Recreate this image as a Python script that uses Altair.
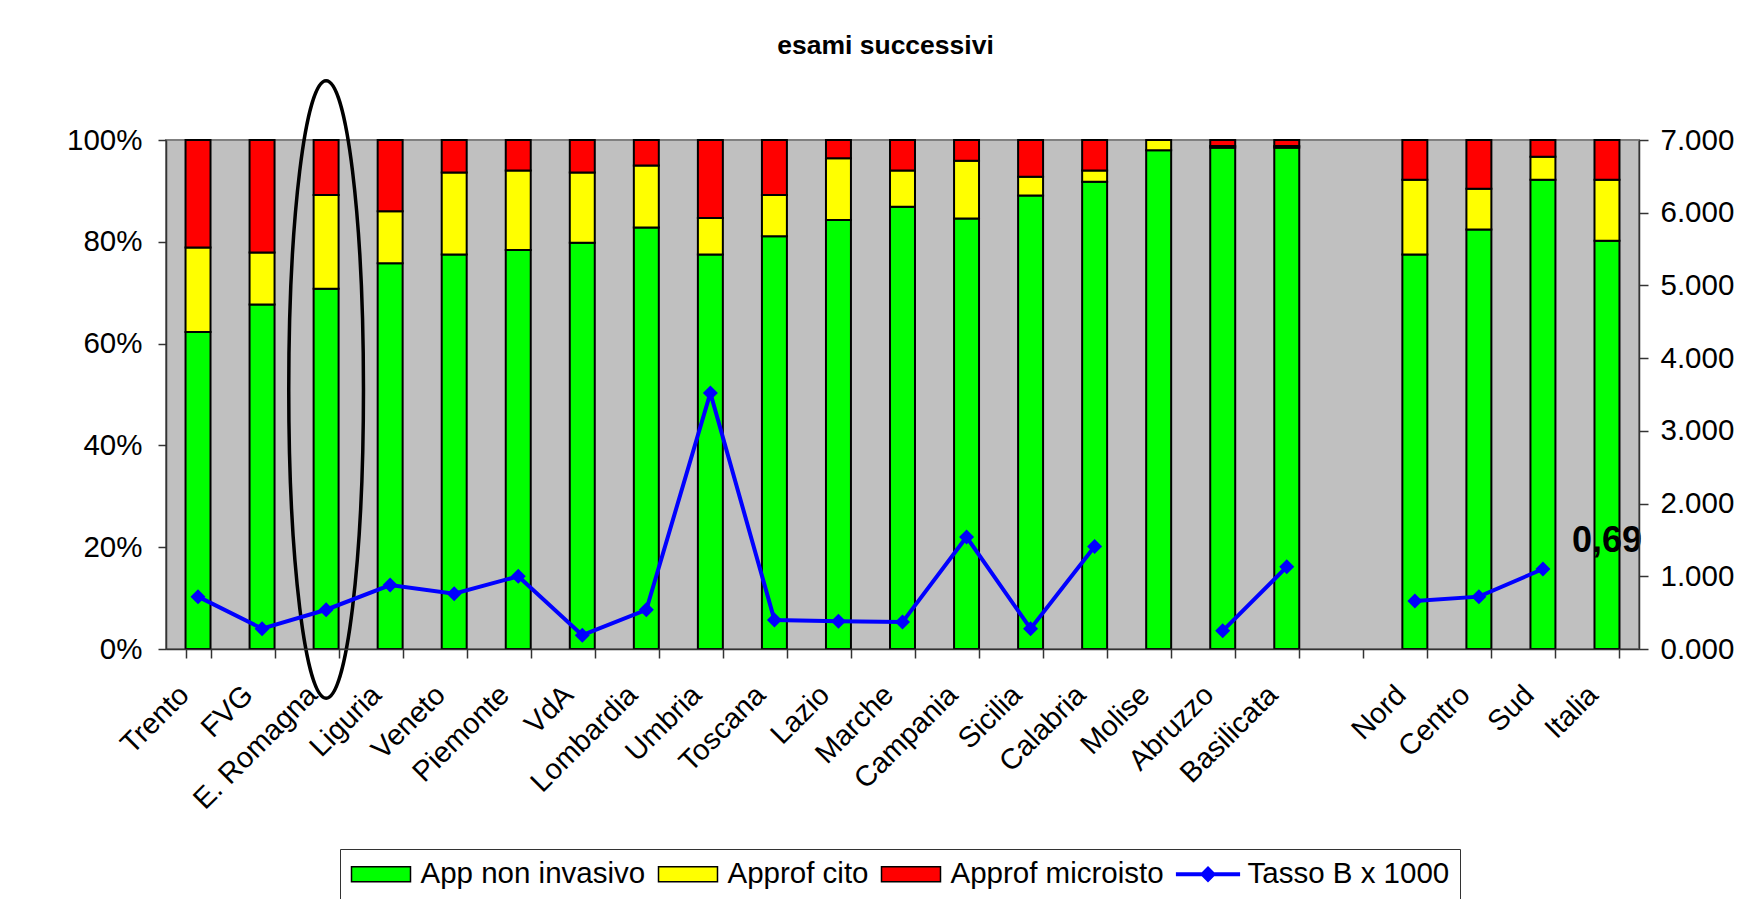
import altair as alt
import pandas as pd

# ---------------- data ----------------
categories = ["Trento", "FVG", "E. Romagna", "Liguria", "Veneto", "Piemonte", "VdA",
              "Lombardia", "Umbria", "Toscana", "Lazio", "Marche", "Campania", "Sicilia",
              "Calabria", "Molise", "Abruzzo", "Basilicata", " ", "Nord", "Centro", "Sud", "Italia"]
app_non_invasivo = [62.3, 67.7, 70.8, 75.8, 77.5, 78.4, 79.8, 82.8, 77.5, 81.1, 84.3, 86.9,
                    84.6, 89.1, 91.8, 98.0, 98.5, 98.5, None, 77.5, 82.4, 92.2, 80.2]
approf_cito = [16.6, 10.2, 18.4, 10.2, 16.1, 15.6, 13.8, 12.2, 7.2, 8.1, 12.1, 7.1,
               11.3, 3.7, 2.2, 2.0, 0.3, 0.3, None, 14.7, 8.0, 4.5, 12.0]
approf_microisto = [21.1, 22.1, 10.8, 14.0, 6.4, 6.0, 6.4, 5.0, 15.3, 10.8, 3.6, 6.0,
                    4.1, 7.2, 6.0, 0.0, 1.2, 1.2, None, 7.8, 9.6, 3.3, 7.8]
tasso_b_x_1000 = [0.72, 0.28, 0.54, 0.88, 0.76, 1.00, 0.19, 0.54, 3.52, 0.40, 0.38, 0.37,
                  1.54, 0.28, 1.41, None, 0.25, 1.13, None, 0.66, 0.72, 1.10, None]
italia_tasso = [0.69]
italia_label = ["0,69"]
series_names = ["App non invasivo", "Approf cito", "Approf microisto", "Tasso B x 1000"]
percent_ticks = [0, 0.2, 0.4, 0.6, 0.8, 1.0]
rate_ticks = [0, 1, 2, 3, 4, 5, 6, 7]
highlight_category = ["E. Romagna"]
highlight_pos = [0.51]
chart_title = "esami successivi"

# ---------------- styling ----------------
FONT = "Liberation Sans"
GREEN, YELLOW, RED, BLUE = "#00FF00", "#FFFF00", "#FF0000", "#0000FF"
PLOT_BG = "#C0C0C0"
AXIS_COLOR = "#333333"
RECT_SYMBOL = "M-2.07,-0.53H2.07V0.53H-2.07Z"
LINE_SYMBOL = "M-2.2,-0.088H2.2V0.088H-2.2Z M0,-0.5L0.5,0L0,0.5L-0.5,0Z"
k = 0.5523
rx = 0.121
ELLIPSE = (f"M0,-1C{k*rx:.4f},-1 {rx},-{k} {rx},0C{rx},{k} {k*rx:.4f},1 0,1"
           f"C-{k*rx:.4f},1 -{rx},{k} -{rx},0C-{rx},-{k} -{k*rx:.4f},-1 0,-1Z")

# ---------------- tables ----------------
bar_rows = []
for i, cat in enumerate(categories):
    for s, arr in enumerate([app_non_invasivo, approf_cito, approf_microisto]):
        if arr[i] is None:
            continue
        bar_rows.append({"cat": cat, "series": series_names[s], "pct": arr[i], "ord": s})
bars_df = pd.DataFrame(bar_rows)

line_rows = []
seg = 0
for i, (cat, v) in enumerate(zip(categories, tasso_b_x_1000)):
    if v is None:
        seg += 1
        continue
    line_rows.append({"cat": cat, "rate": v, "seg": seg, "idx": i})
line_df = pd.DataFrame(line_rows)

label_df = pd.DataFrame({"cat": ["Italia"], "rate": italia_tasso, "label": italia_label})
ellipse_df = pd.DataFrame({"cat": highlight_category, "pos": highlight_pos})
legend_df = pd.DataFrame({"series": series_names})
panel_df = pd.DataFrame({"panel": ["plot"]})

# ---------------- encodings ----------------
x_enc = alt.X(
    "cat:N", title=None,
    scale=alt.Scale(domain=categories, paddingInner=0.61, paddingOuter=0.305),
    axis=alt.Axis(labelAngle=-45, labelAlign="right", labelBaseline="top",
                  labelFontSize=29, labelFont=FONT, labelColor="black",
                  labelPadding=22, labelOffset=-24, labelOverlap=False, labelLimit=400,
                  tickBand="extent", tickSize=9, tickWidth=1.5, tickColor=AXIS_COLOR,
                  domainColor=AXIS_COLOR, domainWidth=1.5, grid=False, zindex=2),
)
left_axis = alt.Axis(orient="left", values=percent_ticks, format=".0%", title=None,
                     labelFontSize=29.5, labelFont=FONT, labelColor="black", labelPadding=16,
                     tickSize=8, tickWidth=1.5, tickColor=AXIS_COLOR,
                     domainColor=AXIS_COLOR, domainWidth=1.5, grid=False, zindex=2)
right_axis = alt.Axis(orient="right", values=rate_ticks, format=".3f", title=None,
                      labelFontSize=29.5, labelFont=FONT, labelColor="black", labelPadding=12,
                      tickSize=9, tickWidth=1.5, tickColor=AXIS_COLOR,
                      domainColor=AXIS_COLOR, domainWidth=1.5, grid=False, zindex=2)
pct_scale = alt.Scale(domain=[0, 1], nice=False)
rate_scale = alt.Scale(domain=[0, 7], nice=False)

fill_enc = alt.Fill("series:N", legend=alt.Legend(title=None),
                    scale=alt.Scale(domain=series_names, range=[GREEN, YELLOW, RED, BLUE]))
stroke_enc = alt.Stroke("series:N", legend=alt.Legend(title=None),
                        scale=alt.Scale(domain=series_names, range=["black", "black", "black", BLUE]))
shape_enc = alt.Shape("series:N", legend=alt.Legend(title=None),
                      scale=alt.Scale(domain=series_names,
                                      range=[RECT_SYMBOL, RECT_SYMBOL, RECT_SYMBOL, LINE_SYMBOL]))

# ---------------- layers ----------------
panel = alt.Chart(panel_df).mark_rect(fill=PLOT_BG, stroke="#808080", strokeWidth=2).encode(
    x=alt.value(0), x2=alt.value("width"), y=alt.value(0), y2=alt.value("height")
)

bars = alt.Chart(bars_df).mark_bar(strokeWidth=2).encode(
    x=x_enc,
    y=alt.Y("pct:Q", stack="normalize", scale=pct_scale, axis=left_axis),
    fill=fill_enc,
    stroke=stroke_enc,
    order=alt.Order("ord:Q"),
)

ellipse = alt.Chart(ellipse_df).mark_point(
    shape=ELLIPSE, size=617.5 ** 2, filled=False, stroke="black", strokeWidth=3.5, opacity=1
).encode(
    x=x_enc,
    y=alt.Y("pos:Q", scale=pct_scale, axis=left_axis),
)

legend_layer = alt.Chart(legend_df).transform_filter("false").mark_point(
    filled=True, opacity=1
).encode(shape=shape_enc, fill=fill_enc, stroke=stroke_enc)

line = alt.Chart(line_df).mark_line(color=BLUE, strokeWidth=4).encode(
    x=x_enc,
    y=alt.Y("rate:Q", scale=rate_scale, axis=right_axis),
    detail="seg:N",
    order=alt.Order("idx:Q"),
)
points = alt.Chart(line_df).mark_point(
    shape="diamond", filled=True, color=BLUE, size=225, opacity=1
).encode(
    x=x_enc,
    y=alt.Y("rate:Q", scale=rate_scale, axis=right_axis),
)
label = alt.Chart(label_df).mark_text(
    font=FONT, fontSize=36, fontWeight="bold", color="black",
    align="center", baseline="middle", dy=-58
).encode(
    x=x_enc,
    y=alt.Y("rate:Q", scale=rate_scale, axis=right_axis),
    text="label:N",
)

left = alt.layer(panel, bars, ellipse, legend_layer)
right = alt.layer(line, points, label)

chart = alt.layer(left, right).resolve_scale(y="independent").properties(
    width=1473,
    height=509,
    title=alt.TitleParams(chart_title, font=FONT, fontSize=26.5, fontWeight="bold",
                          color="black", anchor="middle", frame="group", offset=14, dx=-17),
    autosize=alt.AutoSizeParams(type="none"),
    padding={"left": 158, "top": 132, "right": 101, "bottom": 250},
    background="white",
).configure(font=FONT).configure_view(
    stroke=None
).configure_legend(
    orient="none", legendX=174, legendY=709, direction="horizontal",
    padding=10, strokeColor=AXIS_COLOR, fillColor="white", cornerRadius=0,
    labelFont=FONT, labelFontSize=29.5, labelColor="black", labelLimit=400,
    symbolSize=812, symbolOffset=16, labelOffset=24.5, symbolStrokeWidth=1.5,
    columnPadding=9, symbolOpacity=1,
)

chart.save("out.html", embed_options={"renderer": "svg", "actions": False})
